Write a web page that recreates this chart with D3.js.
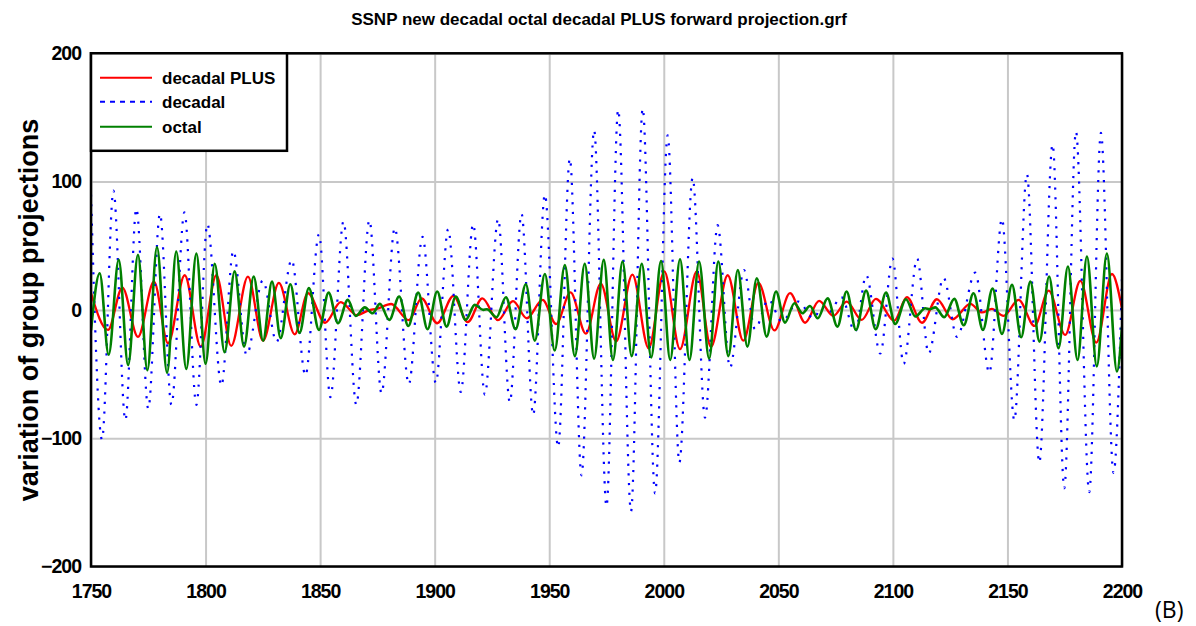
<!DOCTYPE html>
<html>
<head>
<meta charset="utf-8">
<script src="https://cdn.jsdelivr.net/npm/d3@7"></script>
<style>
  body { margin: 0; background: #fff; }
  text { font-family: "Liberation Sans", Arial, sans-serif; }
</style>
</head>
<body>
<div id="chart"></div>
<script>
// values: [year, value] at turning points
const decadalPlus = [
  [1750, 13], [1757.4, -15.6], [1763.7, 17.4], [1770.5, -21], [1777.5, 22], [1783.6, -26],
  [1790.9, 27], [1797.9, -28.6], [1804.7, 27], [1811.2, -28], [1818.5, 26], [1825.1, -24],
  [1832, 21], [1838.9, -19], [1844.7, 13], [1852.2, -10], [1859, 6], [1866, -4], [1871, -0.5],
  [1875, 1], [1881, 4.6], [1888.7, -8], [1894.3, 9], [1901.1, -10.4], [1908.2, 11], [1914.4, -9.5],
  [1920.8, 9], [1927.6, -8], [1934.2, 6.8], [1940.2, -6.5], [1947.1, 7.8], [1953, -11], [1959.3, 13.6],
  [1966, -18.5], [1972.5, 20.5], [1979.2, -24.5], [1986.3, 27.5], [1993.4, -30], [2000.2, 30],
  [2007.1, -30.6], [2014.4, 30], [2020.6, -29], [2027.9, 27], [2034.7, -24], [2041.3, 21],
  [2048.3, -16], [2055.1, 13], [2061.7, -10], [2067.8, 7], [2074, -4.7], [2079.8, 6.5], [2086.4, -7.8],
  [2092.6, 8.6], [2100.6, -8.3], [2106.1, 10], [2112.7, -10], [2119.2, 8.3], [2126.1, -7.3],
  [2133.8, 4.7], [2138.9, -2], [2143.2, 0.8], [2148.3, -4.7], [2154.9, 7.8], [2161.8, -12.5],
  [2168, 15], [2175.2, -19.5], [2181.8, 22.6], [2188.8, -25.5], [2195.6, 28], [2200, 1]
];

const decadal = [
  [1750, 90], [1754.8, -101], [1759.8, 93], [1765, -86], [1769.8, 79], [1775, -77], [1780.1, 75],
  [1785.1, -74], [1790.8, 76], [1796, -74], [1800.8, 67], [1806.9, -59], [1812.1, 46], [1817.9, -35],
  [1825, 23], [1831, -25], [1837.6, 39], [1843.6, -51], [1849.5, 59], [1854.5, -68], [1860.2, 69],
  [1865.8, -74], [1871.5, 70], [1876.8, -65], [1882.6, 64], [1888.7, -58], [1894.7, 57], [1900.5, -57],
  [1905.9, 63], [1911.4, -64], [1916.8, 67], [1921.9, -66], [1927.7, 71], [1932.8, -72], [1937.9, 75],
  [1943, -82], [1948.1, 90], [1953.9, -107], [1959, 118], [1964.1, -129], [1969.6, 140], [1975, -153],
  [1980.1, 156], [1985.7, -157], [1990.8, 157], [1996.2, -143], [2001.7, 136], [2006.8, -119],
  [2012.6, 103], [2018, -84], [2023.5, 66], [2028.9, -45], [2035, 31], [2039.8, -15], [2045.7, 8],
  [2051.5, -9], [2058.7, 6.5], [2065.3, -6.5], [2069, 2], [2072, -2], [2077.5, 10], [2083.5, -17],
  [2088.4, 27], [2094.5, -34], [2099.8, 40], [2104.7, -42], [2110.6, 40], [2115.6, -34], [2122.1, 25],
  [2128, -21], [2136, 29], [2142.1, -49], [2147.6, 71], [2153, -86], [2158.5, 106], [2163.9, -119],
  [2169.7, 129], [2174.8, -139], [2179.9, 139], [2185.7, -142], [2190.8, 138], [2196.3, -127], [2200, 25]
];

const octal = [
  [1750, -16], [1753.8, 28.6], [1757.7, -35], [1762.1, 39], [1766.2, -43], [1770.5, 43], [1774.6, -47],
  [1778.8, 49], [1783.2, -49], [1787.2, 45.5], [1791.6, -46], [1796, 44], [1800, -42], [1804, 36],
  [1808.3, -33], [1812.7, 30], [1816.8, -28.6], [1821, 26], [1825.1, -24], [1829, 22], [1832.8, -22],
  [1837, 20], [1841, -18], [1845.1, 17], [1849.5, -15.6], [1853.7, 13.5], [1857.8, -10.4], [1862.1, 7.8],
  [1865.5, -4.7], [1869.5, 2], [1872.9, -2.6], [1876.1, 4.7], [1880.2, -7.8], [1884.5, 10.4],
  [1888.5, -12.5], [1892.8, 13.5], [1896.9, -15], [1901.1, 14.3], [1905.2, -13], [1909.2, 10.4],
  [1913.5, -7.8], [1917.5, 3.9], [1921.2, 0], [1922.8, 0.5], [1927, -5.7], [1931.1, 9.9], [1935.3, -15],
  [1939.8, 20], [1943.7, -24], [1948.1, 28], [1952.4, -31.7], [1956.8, 35], [1961.2, -36], [1965.5, 36],
  [1969.6, -38], [1973.8, 39], [1977.8, -39], [1982, 37.7], [1986, -36], [1990.4, 36], [1994.5, -37],
  [1998.8, 38], [2002.8, -39], [2007.1, 39.5], [2011.2, -39], [2015.4, 37.7], [2019.8, -38],
  [2023.8, 37.7], [2028.2, -36], [2032.3, 31], [2036.5, -28.6], [2040.6, 24.7], [2044.9, -20.8],
  [2049, 14.3], [2052.9, -9.9], [2057, 5.2], [2060.5, -2.6], [2063.8, 3], [2067.2, -6.5], [2071.5, 9],
  [2075.8, -13], [2079.8, 14.3], [2083.9, -15.6], [2088.3, 15], [2092.5, -15], [2097, 13.5],
  [2101, -11], [2105.7, 8.3], [2109.8, -5.2], [2114.1, 1.3], [2116, 0.5], [2118.5, 2], [2122.4, -5.7],
  [2126.8, 8.6], [2130.9, -12], [2135.2, 13], [2139.3, -15.6], [2143.5, 16.6], [2147.6, -18.7],
  [2152, 19.5], [2156, -21.3], [2160, 22], [2164, -24.7], [2168.2, 26], [2172.3, -29.9], [2176.4, 33.8],
  [2180.6, -39], [2184.7, 41.6], [2189, -44], [2193.4, 44], [2197.8, -48], [2200, -13]
];

const xTicks = [1750, 1800, 1850, 1900, 1950, 2000, 2050, 2100, 2150, 2200];
const yTicks = [-200, -100, 0, 100, 200];

const seriesNames = ["decadal PLUS", "decadal", "octal"];
const seriesColors = ["#ff0000", "#0000ff", "#008000"];

const W = 1196, H = 626;
const margin = { top: 53.3, right: 74, bottom: 59.5, left: 91 };
const width = W - margin.left - margin.right,
    height = H - margin.top - margin.bottom;

const svg = d3.select("#chart")
    .append("svg")
    .attr("width", W)
    .attr("height", H);

const g = svg.append("g")
    .attr("transform", `translate(${margin.left},${margin.top})`);

const x = d3.scaleLinear().domain([1750, 2200]).range([0, width]);
const y = d3.scaleLinear().domain([-200, 200]).range([height, 0]);

// grid
g.append("g")
    .attr("transform", `translate(0,${height})`)
    .call(d3.axisBottom(x).tickValues(xTicks).tickSize(-height).tickFormat(""))
    .call(a => a.select(".domain").remove())
    .selectAll("line")
    .attr("stroke", "#c8c8c8")
    .attr("stroke-width", 2);

g.append("g")
    .call(d3.axisLeft(y).tickValues(yTicks).tickSize(-width).tickFormat(""))
    .call(a => a.select(".domain").remove())
    .selectAll("line")
    .attr("stroke", "#c8c8c8")
    .attr("stroke-width", 2);

// tick labels (the original font is a bit taller and narrower than Arial)
g.append("g")
    .attr("transform", `translate(0,${height})`)
    .call(d3.axisBottom(x).tickValues(xTicks).tickSize(0).tickPadding(18).tickFormat(d3.format("d")))
    .call(a => a.select(".domain").remove())
    .selectAll("text")
    .attr("font-family", "Liberation Sans, Arial, sans-serif")
    .attr("font-size", 19.5)
    .attr("letter-spacing", "-1px")
    .attr("font-weight", "bold")
    .attr("fill", "#000");

g.append("g")
    .call(d3.axisLeft(y).tickValues(yTicks).tickSize(0).tickPadding(10).tickFormat(d3.format("d")))
    .call(a => a.select(".domain").remove())
    .selectAll("text")
    .attr("font-family", "Liberation Sans, Arial, sans-serif")
    .attr("font-size", 19.5)
    .attr("letter-spacing", "-1px")
    .attr("font-weight", "bold")
    .attr("fill", "#000");

// lines
g.append("clipPath").attr("id", "clip")
    .append("rect").attr("width", width).attr("height", height);

const line = d3.line()
    .x(d => x(d[0]))
    .y(d => y(d[1]))
    .curve(d3.curveMonotoneX);

const plot = g.append("g").attr("clip-path", "url(#clip)");

plot.append("path").datum(decadalPlus)
    .attr("d", line).attr("fill", "none")
    .attr("stroke", seriesColors[0]).attr("stroke-width", 2.3);

plot.append("path").datum(decadal)
    .attr("d", line).attr("fill", "none")
    .attr("stroke", seriesColors[1]).attr("stroke-width", 2.2)
    .attr("stroke-dasharray", "2.2,7.5");

plot.append("path").datum(octal)
    .attr("d", line).attr("fill", "none")
    .attr("stroke", seriesColors[2]).attr("stroke-width", 2.6);

// frame
g.append("rect")
    .attr("width", width).attr("height", height)
    .attr("fill", "none").attr("stroke", "#000").attr("stroke-width", 2.5);

// legend
const legend = g.append("g");
legend.append("rect")
    .attr("x", 0).attr("y", 0)
    .attr("width", 196).attr("height", 97.5)
    .attr("fill", "#fff").attr("stroke", "#000").attr("stroke-width", 2.5);

const legendY = [24.5, 48.5, 73.5];
seriesNames.forEach((name, i) => {
    legend.append("line")
        .attr("x1", 9).attr("x2", 61)
        .attr("y1", legendY[i]).attr("y2", legendY[i])
        .attr("stroke", seriesColors[i])
        .attr("stroke-width", 2)
        .attr("stroke-dasharray", i === 1 ? "5,5" : null);
    legend.append("text")
        .attr("x", 71).attr("y", legendY[i])
        .attr("dy", "0.36em")
        .attr("font-size", 17)
        .attr("font-weight", "bold")
        .text(name);
});

// titles
svg.append("text")
    .attr("x", 599).attr("y", 25)
    .attr("text-anchor", "middle")
    .attr("font-size", 17)
    .attr("font-weight", "bold")
    .text("SSNP new decadal octal decadal PLUS forward projection.grf");

svg.append("text")
    .attr("transform", "rotate(-90)")
    .attr("x", -310).attr("y", 38)
    .attr("text-anchor", "middle")
    .attr("font-size", 27)
    .attr("font-weight", "bold")
    .text("variation of group projections");

svg.append("text")
    .attr("x", 1155).attr("y", 618)
    .style("font-family", "'Open Sans', sans-serif")
    .attr("font-size", 23)
    .text("(B)");
</script>
</body>
</html>
